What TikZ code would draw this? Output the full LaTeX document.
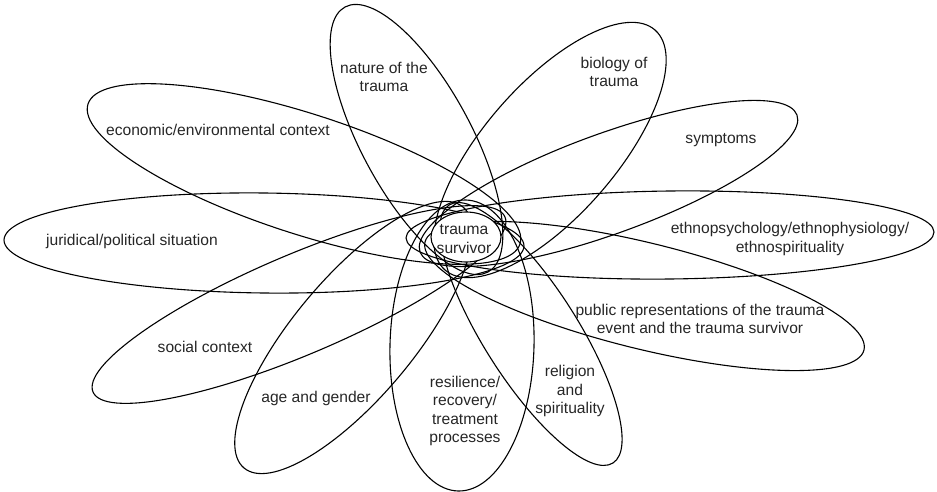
\documentclass[tikz,border=0pt]{standalone}
\usepackage{fontspec}
\setmainfont{Liberation Sans}
\usetikzlibrary{shapes.geometric}
\begin{document}
\begin{tikzpicture}[x=1pt,y=-1pt,
  petal/.style={draw=black, line width=1.1pt},
  lbl/.style={font=\fontsize{15.6}{18.5}\selectfont, align=center, text=black!85, inner sep=0pt}]
\useasboundingbox (0,0) rectangle (937,492);
% petals: outer tip x/y, inner tip x/y, half width
\foreach \tx/\ty/\ix/\iy/\b in {
  345/7/488/272/55,
  655/30/445/270/66,
  797/115/420/252/50,
  934/232/406/238/44,
  864/350/425/242/53,
  613/463/449/205/47,
  458/491/466/200/72,
  244/468/463/207/60,
  93/392/505/217/50,
  4/240/524/246/50,
  88/104/520/244/60}{
  \pgfmathsetmacro\cx{(\tx+\ix)/2}
  \pgfmathsetmacro\cy{(\ty+\iy)/2}
  \pgfmathsetmacro\ra{veclen(\tx-\ix,\ty-\iy)/2}
  \pgfmathsetmacro\ang{atan2(\iy-\ty,\tx-\ix)}
  \draw[petal, shift={(\cx,\cy)}, rotate=\ang] (0,0) ellipse [x radius=\ra pt, y radius=\b pt];
}
\node[petal, fill=white, ellipse, inner sep=0pt, minimum width=70pt, minimum height=50pt] (centre) at (466,237) {};
\node[lbl] (survivor) at (464,239) {trauma\\survivor};
\node[lbl] (nature) at (384,77) {nature of the\\trauma};
\node[lbl] (biology) at (614,72) {biology of\\trauma};
\node[lbl] (symptoms) at (721,140) {symptoms};
\node[lbl] (economic) at (218,130) {economic/environmental context};
\node[lbl] (juridical) at (132,241) {juridical/political situation};
\node[lbl] (ethno) at (790,239) {ethnopsychology/ethnophysiology/\\ethnospirituality};
\node[lbl] (public) at (700,319) {public representations of the trauma\\event and the trauma survivor};
\node[lbl] (religion) at (570,391) {religion\\and\\spirituality};
\node[lbl] (resilience) at (465,411) {resilience/\\recovery/\\treatment\\processes};
\node[lbl] (age) at (316,398) {age and gender};
\node[lbl] (social) at (205,347) {social context};
\end{tikzpicture}
\end{document}
